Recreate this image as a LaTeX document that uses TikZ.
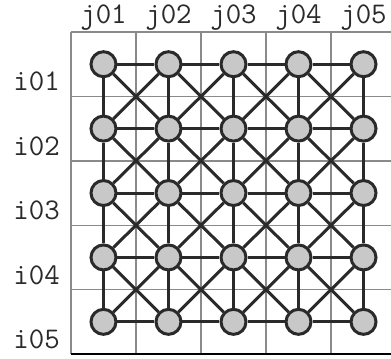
\documentclass[tikz,border=0pt]{standalone}
\definecolor{gridgray}{HTML}{8A8A8A}
\definecolor{inkgray}{HTML}{2A2A2A}
\definecolor{dotfill}{HTML}{C8C8C8}
\begin{document}
\begin{tikzpicture}[x=65pt,y=-64.4pt,
  vtx/.style={circle, draw=inkgray, fill=dotfill, line width=3pt, minimum size=25pt, inner sep=0pt},
  link/.style={draw=inkgray, line width=3pt},
  cell/.style={draw=gridgray, line width=1.4pt},
  lbl/.style={inner sep=0pt, text=inkgray, font=\ttfamily\fontsize{30}{30}\selectfont}]
\useasboundingbox (-1.092,-0.497) rectangle (4.923,5.062);
% grid
\foreach \xx in {0,...,4} {\draw[cell] (\xx,0) -- (\xx,5);}
\foreach \yy in {0,...,4} {\draw[cell] (0,\yy) -- (4.923,\yy);}
\draw[line width=2pt] (0,5) -- (4.923,5);
% labels
\foreach \cc in {1,...,5} {\node[lbl] (j\cc) at (\cc-0.5,-0.23) {j0\cc};}
\foreach \rr in {1,...,5} {\node[lbl] (i\rr) at (-0.53,\rr-0.23) {i0\rr};}
% vertices
\foreach \rr in {1,...,5} {
  \foreach \cc in {1,...,5} {\node[vtx] (n\rr\cc) at (\cc-0.5,\rr-0.5) {};}
}
% edges
\foreach \rr in {1,...,5} {
  \foreach \cc in {1,...,4} {
    \pgfmathtruncatemacro{\nn}{\cc+1}
    \draw[link] (n\rr\cc) -- (n\rr\nn);
    \draw[link] (n\cc\rr) -- (n\nn\rr);
  }
}
\foreach \rr in {1,...,4} {
  \foreach \cc in {1,...,4} {
    \pgfmathtruncatemacro{\nr}{\rr+1}
    \pgfmathtruncatemacro{\nc}{\cc+1}
    \draw[link] (n\rr\cc) -- (n\nr\nc);
    \draw[link] (n\rr\nc) -- (n\nr\cc);
  }
}
\end{tikzpicture}
\end{document}
